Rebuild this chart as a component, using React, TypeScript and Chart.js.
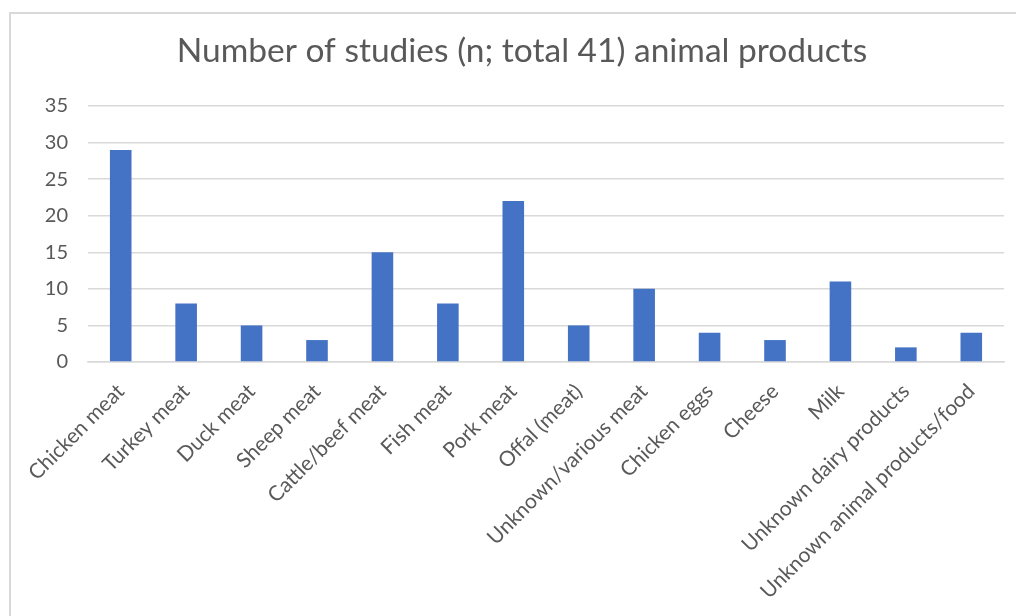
import React, { useEffect, useRef } from "react";
import { Chart, registerables } from "chart.js";

Chart.register(...registerables);

const categories = [
  "Chicken meat",
  "Turkey meat",
  "Duck meat",
  "Sheep meat",
  "Cattle/beef meat",
  "Fish meat",
  "Pork meat",
  "Offal (meat)",
  "Unknown/various meat",
  "Chicken eggs",
  "Cheese",
  "Milk",
  "Unknown dairy products",
  "Unknown animal products/food",
];
const studies = [29, 8, 5, 3, 15, 8, 22, 5, 10, 4, 3, 11, 2, 4];
const yTicks = [0, 5, 10, 15, 20, 25, 30, 35];
const titleText = "Number of studies (n; total 41) animal products";
const FONT = "Lato, 'Liberation Sans', Arial, sans-serif";

const titlePlugin = {
  id: "centeredTitle",
  afterDraw(chart: any) {
    const ctx = chart.ctx;
    ctx.save();
    ctx.font = `normal 33.5px ${FONT}`;
    ctx.fillStyle = "#595959";
    ctx.textAlign = "center";
    ctx.textBaseline = "middle";
    ctx.fillText(titleText, 511, 37);
    ctx.restore();
  },
};

export default function App() {
  const ref = useRef<HTMLCanvasElement>(null);
  useEffect(() => {
    if (!ref.current) return;
    const chart = new Chart(ref.current, {
      type: "bar",
      data: {
        labels: categories,
        datasets: [
          {
            data: studies,
            backgroundColor: "#4472C4",
            categoryPercentage: 1,
            barPercentage: 0.33,
          },
        ],
      },
      plugins: [titlePlugin],
      options: {
        animation: false,
        responsive: false,
        layout: { padding: { left: 0, right: 30, top: 92, bottom: 0 } },
        plugins: {
          legend: { display: false },
          tooltip: { enabled: false },
          title: { display: false },
        },
        scales: {
          x: {
            grid: { display: false, drawTicks: false },
            border: { display: true, color: "#d9d9d9", width: 1.5 },
            ticks: {
              color: "#595959",
              font: { family: FONT, size: 21 },
              minRotation: 45,
              maxRotation: 45,
              autoSkip: false,
              padding: 17,
            },
            afterFit: (s: any) => {
              s.height = 254;
            },
          },
          y: {
            min: 0,
            max: 35,
            afterBuildTicks: (s: any) => {
              s.ticks = yTicks.map((v) => ({ value: v }));
            },
            grid: { color: "#d9d9d9", lineWidth: 1.5, drawTicks: false },
            border: { display: false },
            ticks: {
              color: "#595959",
              font: { family: FONT, size: 20 },
              padding: 20,
            },
            afterFit: (s: any) => {
              s.width = 77;
            },
          },
        },
      },
    });
    return () => chart.destroy();
  }, []);
  return (
    <div
      style={{
        position: "fixed",
        left: 9,
        top: 12,
        width: 1030,
        height: 620,
        borderLeft: "2px solid #d9d9d9",
        borderTop: "2px solid #d9d9d9",
        background: "#fff",
        overflow: "hidden",
      }}
    >
      <canvas ref={ref} width={1023} height={602} style={{ display: "block" }} />
    </div>
  );
}
